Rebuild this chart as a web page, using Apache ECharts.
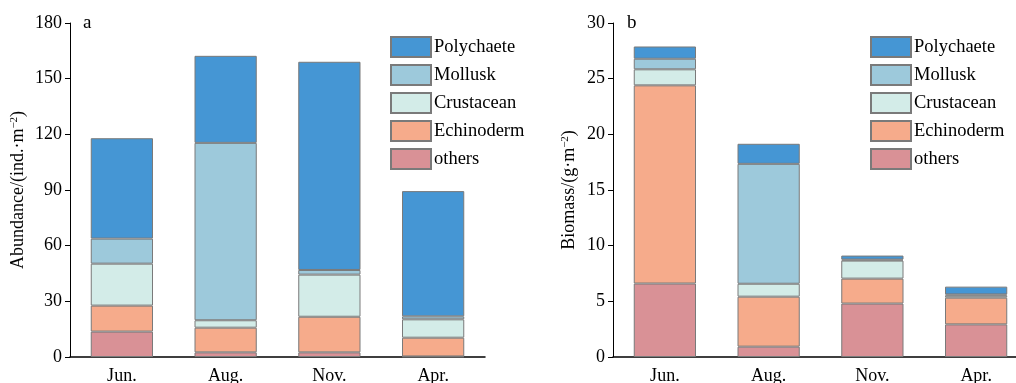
<!DOCTYPE html>
<html>
<head>
<meta charset="utf-8">
<script src="https://cdn.jsdelivr.net/npm/echarts@6/dist/echarts.min.js"></script>
<style>
  html, body { margin: 0; padding: 0; background: #fff; }
  #chart { width: 1016px; height: 383px; }
</style>
</head>
<body>
<div id="chart"></div>
<script>
const months = ['Jun.', 'Aug.', 'Nov.', 'Apr.']
const groups = ['others', 'Echinoderm', 'Crustacean', 'Mollusk', 'Polychaete']
const colors = ['#d99196', '#f6ab8b', '#d3ece8', '#9dc9db', '#4596d4']

// abundance, ind./m2
const abOthers = [13.7, 2.5, 2.5, 0.3]
const abEchino = [14.0, 13.3, 19.2, 10.1]
const abCrust = [22.6, 4.0, 22.7, 9.9]
const abMollusk = [13.5, 95.6, 2.5, 1.6]
const abPoly = [54.1, 46.9, 112.2, 67.5]

// biomass, g/m2
const bmOthers = [6.6, 0.93, 4.8, 2.93]
const bmEchino = [17.8, 4.49, 2.24, 2.4]
const bmCrust = [1.44, 1.16, 1.62, 0.18]
const bmMollusk = [0.95, 10.77, 0.09, 0.11]
const bmPoly = [1.1, 1.8, 0.36, 0.7]

const abData = [abOthers, abEchino, abCrust, abMollusk, abPoly]
const bmData = [bmOthers, bmEchino, bmCrust, bmMollusk, bmPoly]

const font = 'Liberation Serif'
const txt = { color: '#000', fontFamily: font, fontSize: 18 }

function xAx(i) {
  return {
    type: 'category', gridIndex: i, data: months,
    axisLine: { lineStyle: { color: '#000', width: 1.5 } },
    axisTick: { inside: true, alignWithLabel: true, length: 5, lineStyle: { color: '#000' } },
    axisLabel: { ...txt, margin: 10 }
  }
}

function yAx(i, max, step, name, gap) {
  return {
    type: 'value', gridIndex: i, min: 0, max, interval: step,
    name, nameLocation: 'middle', nameGap: gap,
    nameTextStyle: {
      color: '#000', fontFamily: font, fontSize: 18,
      rich: {
        t: { color: '#000', fontFamily: font, fontSize: 18 },
        s: { color: '#000', fontFamily: font, fontSize: 11, verticalAlign: 'top' }
      }
    },
    axisLine: { show: true, lineStyle: { color: '#000', width: 1 } },
    axisTick: { show: true, length: 5, lineStyle: { color: '#000' } },
    axisLabel: { ...txt, margin: 8 },
    splitLine: { show: false }
  }
}

function legend(left) {
  return {
    orient: 'vertical', left, top: 36, padding: 0,
    icon: 'rect',
    itemWidth: 40, itemHeight: 20, itemGap: 6,
    data: groups.slice().reverse(),
    textStyle: { color: '#000', fontFamily: font, fontSize: 18.5, lineHeight: 20, padding: [0, 0, 0, -2] }
  }
}

const series = []
;[abData, bmData].forEach((set, gi) => {
  set.forEach((vals, k) => {
    series.push({
      name: groups[k], type: 'bar', stack: 's' + gi,
      xAxisIndex: gi, yAxisIndex: gi, barWidth: '60%',
      itemStyle: { color: colors[k], borderColor: '#7a7a7a', borderWidth: 1 },
      emphasis: { disabled: true },
      data: vals
    })
  })
})

const chart = echarts.init(document.getElementById('chart'), null, { renderer: 'canvas' })
chart.setOption({
  animation: false,
  title: [
    { text: 'a', left: 78, top: 9, textStyle: { color: '#000', fontFamily: font, fontSize: 19, fontWeight: 'normal' } },
    { text: 'b', left: 622, top: 9, textStyle: { color: '#000', fontFamily: font, fontSize: 19, fontWeight: 'normal' } }
  ],
  grid: [
    { left: 70, top: 23, width: 415, height: 334, outerBoundsMode: 'none' },
    { left: 613, top: 23, width: 415, height: 334, outerBoundsMode: 'none' }
  ],
  legend: [legend(390), legend(870)],
  xAxis: [xAx(0), xAx(1)],
  yAxis: [
    yAx(0, 180, 30, '{t|Abundance/(ind.·m}{s|−2}{t|)}', 43),
    yAx(1, 30, 5, '{t|Biomass/(g·m}{s|−2}{t|)}', 35)
  ],
  series
})
</script>
</body>
</html>
